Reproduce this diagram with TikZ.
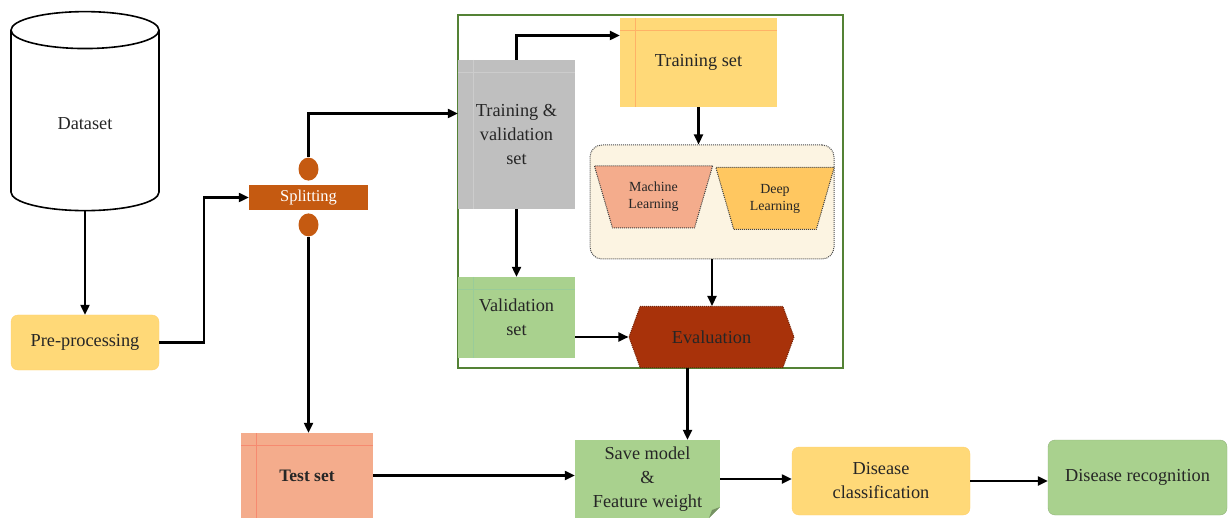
\documentclass[tikz,border=0pt]{standalone}
\usepackage{fontspec}
\setmainfont{Liberation Serif}
\usetikzlibrary{shapes.geometric,shapes.symbols,arrows.meta,positioning}

\definecolor{splitclr}{RGB}{197,90,17}
\definecolor{yelclr}{RGB}{255,217,120}
\definecolor{greenclr}{RGB}{169,209,142}
\definecolor{salmonclr}{RGB}{244,172,140}
\definecolor{greyclr}{RGB}{191,191,191}
\definecolor{evalclr}{RGB}{168,50,10}
\definecolor{frameclr}{RGB}{84,130,53}
\definecolor{creamclr}{RGB}{252,244,226}

\begin{document}
\begin{tikzpicture}[x=1pt,y=-1pt,
    arr/.style={line width=2.2pt,-{Triangle[length=10pt,width=9pt]}},
    txt/.style={font=\fontsize{18.3}{24}\selectfont,align=center,text=black!85},
    storebox/.style 2 args={rectangle,txt,fill=#1,
        path picture={
            \draw[#2] ([xshift=15pt]path picture bounding box.north west) -- ([xshift=15pt]path picture bounding box.south west);
            \draw[#2] ([yshift=-12pt]path picture bounding box.north west) -- ([yshift=-12pt]path picture bounding box.north east);
        }},
    roundbox/.style={rectangle,rounded corners=7pt,txt},
    trapbox/.style={trapezium,shape border rotate=180,trapezium stretches=true,
        trapezium left angle=70,trapezium right angle=70,draw=black!75,line width=1pt,densely dotted,
        minimum width=119pt,minimum height=62pt,inner sep=1pt,
        font=\fontsize{13.9}{17}\selectfont,align=center,text=black!85},
    knob/.style={ellipse,fill=splitclr,minimum width=20pt,minimum height=23pt,inner sep=0pt}
]
\useasboundingbox (0,0) rectangle (1228,518);

\node[frameclr,draw,line width=1.6pt,minimum width=385pt,minimum height=353pt] (frame) at (650.5,191.5) {};

\node[cylinder,shape border rotate=90,draw,line width=1.6pt,aspect=0.6,minimum height=199pt,minimum width=148pt,txt] (data) at (85,123.5) {Dataset};
\node[roundbox,fill=yelclr,draw=yelclr!90!orange,minimum width=148pt,minimum height=55pt] (pre) at (85,342.5) {Pre-processing};
\node[rectangle,fill=splitclr,minimum width=119pt,minimum height=25pt,font=\fontsize{16.5}{18}\selectfont,text=white] (split) at (308.5,197.5) {Splitting};
\node[knob,above=4pt of split] (cup) {};
\node[knob,below=3pt of split] (cdown) {};

\node[storebox={greyclr}{black!20},minimum width=117pt,minimum height=149pt] (tv) at (516.5,134.5) {Training \&\\validation\\set};
\node[storebox={yelclr}{orange!60},minimum width=157pt,minimum height=89pt] (train) at (698.5,62.5) {Training set};
\node[rectangle,rounded corners=12pt,draw=black!70,line width=1pt,densely dotted,fill=creamclr,minimum width=244pt,minimum height=114pt] (cont) at (712,202) {};
\node[trapbox,fill=salmonclr] (ml) at (653.5,197) {Machine\\Learning};
\node[trapbox,fill=yelclr!80!orange] (dl) at (775,198.5) {Deep\\Learning};
\node[storebox={greenclr}{green!50!black!40},minimum width=117pt,minimum height=81pt] (val) at (516.5,317.5) {Validation\\set};
\node[signal,signal to=west and east,signal pointer angle=140,fill=evalclr,draw=evalclr!70!black,line width=1pt,densely dotted,minimum width=165pt,minimum height=61pt,txt,text=black!85] (eval) at (711.5,337) {Evaluation};

\node[storebox={salmonclr}{salmonclr!80!red},minimum width=132pt,minimum height=85pt,font=\fontsize{17.5}{20}\selectfont\bfseries] (test) at (307,475.5) {Test set};
\node[rectangle,fill=greenclr,minimum width=145pt,minimum height=78pt,txt,inner sep=1pt,
    path picture={
        \fill[white] (path picture bounding box.south east) -- ++(-11pt,0pt) -- ++(11pt,11pt) -- cycle;
        \fill[greenclr!70!black] ([xshift=-11pt]path picture bounding box.south east) -- ++(11pt,11pt) -- ++(-8pt,-3pt) -- cycle;
    }] (save) at (647.5,479) {Save model\\\&\\Feature weight};
\node[roundbox,fill=yelclr,draw=yelclr!90!orange,minimum width=178pt,minimum height=68pt] (cls) at (881,481) {Disease\\classification};
\node[roundbox,fill=greenclr,draw=greenclr!85!black,minimum width=179pt,minimum height=75pt] (rec) at (1137.5,477.5) {Disease recognition};

\draw[arr] (data.south) -- (pre.north);
\draw[arr] (pre.east) -- ++(45,0) |- (split.west);
\draw[arr] (cup.north) |- ([yshift=21pt]tv.west);
\draw[arr] (cdown.south) -- (cdown.south |- test.north);
\draw[arr] (tv.north) |- ([yshift=27pt]train.west);
\draw[arr] (train.south) -- (train.south |- cont.north);
\draw[arr] (tv.south) -- (val.north);
\draw[arr] (cont.south) -- (cont.south |- eval.north);
\draw[arr] (eval.west -| val.east) -- (eval.west);
\draw[arr] ([xshift=-24pt]eval.south) -- ([xshift=-24pt]eval.south |- save.north);
\draw[arr] (test.east) -- (test.east -| save.west);
\draw[arr] (save.east) -- (save.east -| cls.west);
\draw[arr] (cls.east) -- (cls.east -| rec.west);
\end{tikzpicture}
\end{document}
